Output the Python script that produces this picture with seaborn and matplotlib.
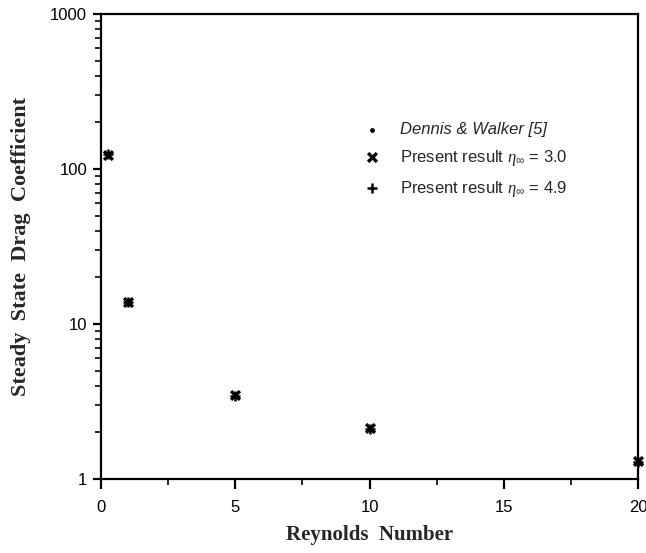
import matplotlib
matplotlib.use("Agg")
import matplotlib.pyplot as plt
import matplotlib.ticker as mticker
import seaborn as sns
import pandas as pd

# ---- data ----
reynolds = [0.25, 1, 5, 10, 20]
dennis_walker = [125, 13.9, 3.45, 2.10, 1.28]
present_eta30 = [124, 13.8, 3.48, 2.12, 1.30]
present_eta49 = [125, 13.9, 3.45, 2.10, 1.28]
series_labels = ["Dennis & Walker [5]",
                 r"Present result $\eta_\infty$ = 3.0",
                 r"Present result $\eta_\infty$ = 4.9"]
x_ticks = [0, 5, 10, 15, 20]
y_ticks = [1, 10, 100, 1000]

sns.set_style("ticks")
plt.rcParams["font.family"] = ["Liberation Sans", "DejaVu Sans"]
plt.rcParams["mathtext.fontset"] = "custom"
plt.rcParams["mathtext.it"] = "Liberation Serif:italic"
plt.rcParams["mathtext.rm"] = "Liberation Sans"

fig = plt.figure(figsize=(6.46, 5.53), dpi=100)
ax = fig.add_axes([101/646, 1-479/553, (638-101)/646, (479-14)/553])

df = pd.DataFrame({"Re": reynolds * 3,
                   "Cd": dennis_walker + present_eta30 + present_eta49,
                   "series": [series_labels[0]]*5 + [series_labels[1]]*5 + [series_labels[2]]*5})

styles = {
    series_labels[0]: dict(marker="o", s=12, linewidth=0),
    series_labels[1]: dict(marker="x", s=40, linewidth=2.4),
    series_labels[2]: dict(marker="+", s=50, linewidth=1.8),
}
for lab in series_labels:
    sub = df[df["series"] == lab]
    sns.scatterplot(data=sub, x="Re", y="Cd", ax=ax, color="black",
                    label=lab, clip_on=False, zorder=3, **styles[lab])

ax.set_yscale("log")
ax.set_xlim(0, 20)
ax.set_ylim(1, 1000)
ax.set_xticks(x_ticks)
ax.set_xticklabels([str(v) for v in x_ticks])
ax.xaxis.set_minor_locator(mticker.MultipleLocator(2.5))
ax.set_yticks(y_ticks)
ax.set_yticklabels([str(v) for v in y_ticks])
ax.yaxis.set_minor_locator(mticker.LogLocator(base=10, subs=range(2, 10)))
ax.yaxis.set_minor_formatter(mticker.NullFormatter())

for s in ax.spines.values():
    s.set_linewidth(1.6)
    s.set_color("black")
ax.tick_params(axis="both", which="major", direction="out", length=6, width=1.6,
               labelsize=12, colors="black")
ax.tick_params(axis="x", which="major", length=7, pad=8)
ax.tick_params(axis="y", which="major", pad=4)
ax.tick_params(axis="both", which="minor", direction="out", length=4, width=1.4)

ax.set_xlabel("Reynolds  Number", fontfamily="Liberation Serif", fontweight="bold",
              fontsize=15, labelpad=7)
ax.set_ylabel("Steady  State  Drag  Coefficient", fontfamily="Liberation Serif",
              fontweight="bold", fontsize=16, labelpad=14)

leg = ax.legend(loc="upper left", bbox_to_anchor=(362/646, 1-122/553),
                bbox_transform=fig.transFigure, frameon=False, fontsize=12,
                handletextpad=1.1, labelspacing=0.65, borderpad=0, borderaxespad=0,
                handlelength=1.2)
for t in leg.get_texts():
    if t.get_text().startswith("Dennis"):
        t.set_fontstyle("italic")

fig.savefig("out.png", dpi=100)
